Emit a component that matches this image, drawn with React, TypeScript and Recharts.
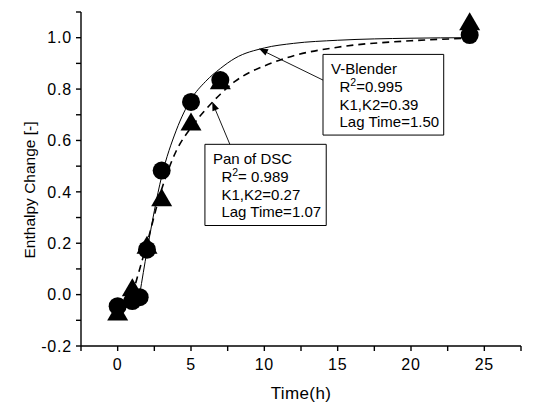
import {
  ComposedChart,
  Line,
  Scatter,
  XAxis,
  YAxis,
  ReferenceArea,
  ReferenceLine,
  ReferenceDot,
} from "recharts"

// measured points, circles = V-Blender, triangles = Pan of DSC
const vBlenderPoints = [
  { t: 0, v: -0.045 },
  { t: 1, v: -0.025 },
  { t: 1.5, v: -0.01 },
  { t: 2, v: 0.175 },
  { t: 3, v: 0.483 },
  { t: 5, v: 0.75 },
  { t: 7, v: 0.835 },
  { t: 24, v: 1.01 },
]

const panPoints = [
  { t: 0, v: -0.07 },
  { t: 1, v: 0.025 },
  { t: 2, v: 0.19 },
  { t: 3, v: 0.375 },
  { t: 5, v: 0.67 },
  { t: 7, v: 0.83 },
  { t: 24, v: 1.06 },
]

// fitted curves
const vBlenderFit = [
  { t: 1.5, v: 0 },
  { t: 2, v: 0.17 },
  { t: 3, v: 0.46 },
  { t: 4, v: 0.64 },
  { t: 5, v: 0.76 },
  { t: 6, v: 0.83 },
  { t: 7, v: 0.88 },
  { t: 8, v: 0.92 },
  { t: 10, v: 0.96 },
  { t: 12, v: 0.978 },
  { t: 15, v: 0.99 },
  { t: 20, v: 0.998 },
  { t: 24, v: 1.0 },
]

const panFit = [
  { t: 1.0, v: 0.0 },
  { t: 2, v: 0.2 },
  { t: 3, v: 0.41 },
  { t: 4, v: 0.56 },
  { t: 5, v: 0.65 },
  { t: 6, v: 0.72 },
  { t: 7, v: 0.78 },
  { t: 8, v: 0.83 },
  { t: 9, v: 0.865 },
  { t: 10, v: 0.89 },
  { t: 12, v: 0.93 },
  { t: 15, v: 0.963 },
  { t: 20, v: 0.988 },
  { t: 24, v: 0.998 },
]

const xTicks = [-2.5, 0, 2.5, 5, 7.5, 10, 12.5, 15, 17.5, 20, 22.5, 25, 27.5]
const yTicks = [-0.2, -0.1, 0, 0.1, 0.2, 0.3, 0.4, 0.5, 0.6, 0.7, 0.8, 0.9, 1.0, 1.1]

const vBlenderNote = ["V-Blender", "R2=0.995", "K1,K2=0.39", "Lag Time=1.50"]
const panNote = ["Pan of DSC", "R2= 0.989", "K1,K2=0.27", "Lag Time=1.07"]

const FONT = "'Liberation Sans', Arial, Helvetica, sans-serif"

const CircleMark = (props: any) => {
  const { cx, cy } = props
  return <circle cx={cx} cy={cy} r={9} fill="#000" />
}

const TriangleMark = (props: any) => {
  const { cx, cy } = props
  return (
    <polygon
      points={`${cx},${cy - 10} ${cx - 10.5},${cy + 8} ${cx + 10.5},${cy + 8}`}
      fill="#000"
    />
  )
}

const arrowHead = (angle: number) => (props: any) => {
  const { cx, cy } = props
  return (
    <polygon
      points={`${cx},${cy} ${cx - 9},${cy - 3.5} ${cx - 9},${cy + 3.5}`}
      fill="#000"
      transform={`rotate(${angle} ${cx} ${cy})`}
    />
  )
}

const noteLabel = (lines: string[]) => (props: any) => {
  const { x, y } = props.viewBox
  return (
    <g fontFamily={FONT} fontSize={15} fill="#000">
      {lines.map((line, i) => {
        const tx = x + (i === 0 ? 8 : 16.5)
        const ty = y + 20 + i * 17.6
        if (line.startsWith("R2")) {
          return (
            <text key={i} x={tx} y={ty}>
              R<tspan fontSize={10.5} dy={-6}>2</tspan>
              <tspan dy={6}>{line.slice(2)}</tspan>
            </text>
          )
        }
        return (
          <text key={i} x={tx} y={ty}>
            {line}
          </text>
        )
      })}
    </g>
  )
}

const xTickFmt = (v: number) => (v % 5 === 0 ? String(v) : "")
const yTickFmt = (v: number) => (Math.round(v * 10) % 2 === 0 ? v.toFixed(1) : "")

const YTitle = (props: any) => {
  const { x, y, height } = props.viewBox
  const cx = x + 29
  const cy = y + height / 2 + 11
  return (
    <text
      x={cx}
      y={cy}
      textAnchor="middle"
      dominantBaseline="central"
      transform={`rotate(-90 ${cx} ${cy})`}
      fontFamily={FONT}
      fontSize={15.5}
      fill="#000"
    >
      Enthalpy Change [-]
    </text>
  )
}

const XTitle = (props: any) => {
  const { x, width } = props.viewBox
  return (
    <text
      x={x + width / 2}
      y={399}
      textAnchor="middle"
      fontFamily={FONT}
      fontSize={17}
      letterSpacing={0.4}
      fill="#000"
    >
      Time(h)
    </text>
  )
}

export default function App() {
  return (
    <div style={{ position: "absolute", left: 0, top: 0, width: 541, height: 405, background: "#fff" }}>
      <ComposedChart width={541} height={405} margin={{ top: 12, right: 20, bottom: 6, left: 0 }}>
        <XAxis
          type="number"
          dataKey="t"
          domain={[-2.5, 27.5]}
          ticks={xTicks}
          interval={0}
          tickFormatter={xTickFmt}
          height={53}
          tickSize={5}
          tickMargin={8}
          stroke="#000"
          strokeWidth={1.4}
          tick={{ fill: "#000", fontSize: 16, fontFamily: FONT, letterSpacing: 0.8 }}
          label={<XTitle />}
          allowDataOverflow
        />
        <YAxis
          type="number"
          dataKey="v"
          domain={[-0.2, 1.1]}
          ticks={yTicks}
          interval={0}
          tickFormatter={yTickFmt}
          width={81}
          tickSize={5}
          tickMargin={4}
          stroke="#000"
          strokeWidth={1.4}
          tick={{ fill: "#000", fontSize: 16, fontFamily: FONT, letterSpacing: 0.8 }}
          label={<YTitle />}
          allowDataOverflow
        />
        <Line
          data={vBlenderFit}
          dataKey="v"
          type="monotone"
          stroke="#000"
          strokeWidth={1}
          dot={false}
          activeDot={false}
          isAnimationActive={false}
        />
        <Line
          data={panFit}
          dataKey="v"
          type="monotone"
          stroke="#000"
          strokeWidth={1.6}
          strokeDasharray="7 5"
          dot={false}
          activeDot={false}
          isAnimationActive={false}
        />
        <Scatter data={vBlenderPoints} dataKey="v" shape={<CircleMark />} isAnimationActive={false} />
        <Scatter data={panPoints} dataKey="v" shape={<TriangleMark />} isAnimationActive={false} />

        <ReferenceLine
          segment={[{ x: 14.0, y: 0.835 }, { x: 9.8, y: 0.952 }]}
          stroke="#000"
          strokeWidth={0.9}
        />
        <ReferenceDot x={9.63} y={0.958} shape={arrowHead(206)} />
        <ReferenceLine
          segment={[{ x: 7.65, y: 0.585 }, { x: 6.55, y: 0.735 }]}
          stroke="#000"
          strokeWidth={0.9}
        />
        <ReferenceDot x={6.45} y={0.751} shape={arrowHead(247.5)} />

        <ReferenceArea
          x1={14.0}
          x2={22.23}
          y1={0.621}
          y2={0.935}
          fill="#fff"
          fillOpacity={1}
          stroke="#000"
          strokeWidth={1}
          label={noteLabel(vBlenderNote)}
        />
        <ReferenceArea
          x1={5.95}
          x2={14.22}
          y1={0.269}
          y2={0.585}
          fill="#fff"
          fillOpacity={1}
          stroke="#000"
          strokeWidth={1}
          label={noteLabel(panNote)}
        />
      </ComposedChart>
    </div>
  )
}
